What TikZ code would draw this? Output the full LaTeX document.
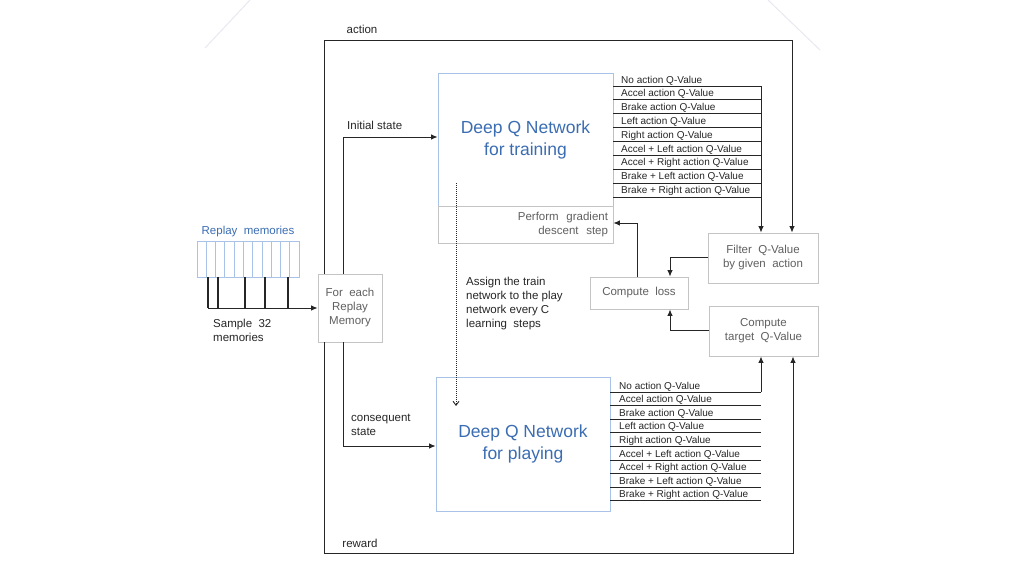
\documentclass[tikz,border=0pt]{standalone}
\usepackage{fontspec}
\setmainfont{Liberation Sans}
\usetikzlibrary{arrows.meta}
\definecolor{lblue}{HTML}{A9C3E8}
\definecolor{tblue}{HTML}{3B6DB3}
\definecolor{bgray}{HTML}{C4C4C4}
\definecolor{lgray}{HTML}{606060}
\definecolor{lnc}{HTML}{262626}
\definecolor{deco}{HTML}{E8E9F0}
\begin{document}
\begin{tikzpicture}[x=1pt,y=-1pt,
  netbox/.style={draw=lblue, line width=0.8pt, text=tblue, align=center, inner sep=0pt,
    font=\fontsize{17.5}{22}\selectfont},
  graybox/.style={draw=bgray, line width=0.8pt, fill=white, text=lgray, align=center, inner sep=0pt,
    font=\fontsize{11.5}{14}\selectfont},
  arr/.style={draw=lnc, line width=1pt, -{Latex[length=6.5pt,width=5.5pt]}},
  qline/.style={draw=lnc, line width=0.8pt},
  qtxt/.style={font=\fontsize{10}{12}\selectfont, anchor=west, inner sep=0pt, text=lnc},
  lbl/.style={font=\fontsize{11.5}{14}\selectfont, inner sep=0pt, align=left, text=lnc}]
\useasboundingbox (0,0) rectangle (1024,576);
\fill[white] (0,0) rectangle (1024,576);
% faint slide decoration
\draw[deco, line width=1pt] (250,0) -- (205,48);
\draw[deco, line width=1pt] (768,0) -- (820,50);

% main boxes
\node[netbox, minimum width=175pt, minimum height=133pt] (train) at (525.5,139.5) {Deep Q Network\\for training};
\node[graybox, minimum height=37pt, text width=165pt, inner xsep=5pt, align=right] (grad) at (525.5,224.5) {Perform\ \ gradient\\descent\ \ step};
\node[netbox, minimum width=174pt, minimum height=134pt] (play) at (523,444) {Deep Q Network\\for playing};
\node[graybox, minimum width=64pt, minimum height=68pt] (foreach) at (350,308) {For\ \ each\\Replay\\Memory};
\node[graybox, minimum width=110pt, minimum height=50pt] (filter) at (763,258) {Filter\ \ Q-Value\\by\ given\ \ action};
\node[graybox, minimum width=98pt, minimum height=32pt] (loss) at (639,293) {Compute\ \ loss};
\node[graybox, minimum width=109pt, minimum height=50pt] (target) at (763.5,331) {Compute\\target\ \ Q-Value};

% replay memories
\node[draw=lblue, line width=0.8pt, minimum width=102pt, minimum height=36pt, inner sep=0pt] (replay) at (248,259) {};
\foreach \k in {1,...,10} \draw[lblue, line width=0.7pt] ({197+\k*9.27},241) -- ({197+\k*9.27},277);
\node[text=tblue, font=\fontsize{11.5}{14}\selectfont, inner sep=0pt] (replaytitle) at (248,232) {Replay\ \ memories};
\coordinate (smp) at (208,308);
\foreach \xx in {208,218,245,265,288} \draw[draw=lnc, line width=1.2pt] (\xx,277) -- (\xx,308);
\draw[arr] (smp) -- (smp -| foreach.west);
\node[lbl, anchor=west] (sample) at (213,330.5) {Sample\ \ 32\\memories};

% Q-value lists
\foreach \t [count=\i from 0] in {No action Q-Value, Accel action Q-Value, Brake action Q-Value, Left action Q-Value, Right action Q-Value, Accel + Left action Q-Value, Accel + Right action Q-Value, Brake + Left action Q-Value, Brake + Right action Q-Value} {
  \node[qtxt] (tq\i) at (621,{80.5+\i*13.8}) {\t};
  \draw[qline] (613,{86+\i*13.875}) -- (761,{86+\i*13.875});
  \node[qtxt] (pq\i) at (619,{386.5+\i*13.6}) {\t};
  \draw[qline] (610,{392+\i*13.6}) -- (761,{392+\i*13.6});
}
\coordinate (tqr) at (761,86);
\coordinate (pqr) at (761,392);
\draw[arr] (tqr) -- (tqr |- filter.north);
\draw[arr] (pqr) -- (pqr |- target.south);

% action / reward loop
\coordinate (actA) at (324,40);
\coordinate (actB) at (792,40);
\coordinate (rewA) at (324,553);
\coordinate (rewB) at (793,553);
\draw[arr] (foreach.north -| actA) -- (actA) -- (actB) -- (actB |- filter.north);
\draw[arr] (foreach.south -| rewA) -- (rewA) -- (rewB) -- (rewB |- target.south);
\node[lbl] (action) at (362,29) {action};
\node[lbl] (reward) at (360,543) {reward};

% states
\coordinate (isc) at (343,137);
\coordinate (csc) at (343,446);
\draw[arr] (foreach.north -| isc) -- (isc) -- (isc -| train.west);
\draw[arr] (foreach.south -| csc) -- (csc) -- (csc -| play.west);
\node[lbl, anchor=west] (initial) at (347,125) {Initial\ state};
\node[lbl, anchor=west] (conseq) at (351,425) {consequent\\state};

% loss connections
\coordinate (lg) at (637,223);
\coordinate (fl) at (670,257);
\coordinate (tl) at (670,330);
\draw[arr] (loss.north -| lg) -- (lg) -- (lg -| grad.east);
\draw[arr] (fl -| filter.west) -- (fl) -- (fl |- loss.north);
\draw[arr] (tl -| target.west) -- (tl) -- (tl |- loss.south);

% assign (dotted)
\coordinate (as1) at (456,183);
\coordinate (as2) at (456,406);
\draw[draw=lnc, line width=0.9pt, dash pattern=on 1pt off 1pt, -{Straight Barb[length=4pt,width=6pt]}] (as1) -- (as2);
\node[lbl, anchor=west] (assign) at (466,304) {Assign the train\\network\ to\ the\ play\\network\ every\ C\\learning\ \ steps};
\end{tikzpicture}
\end{document}
